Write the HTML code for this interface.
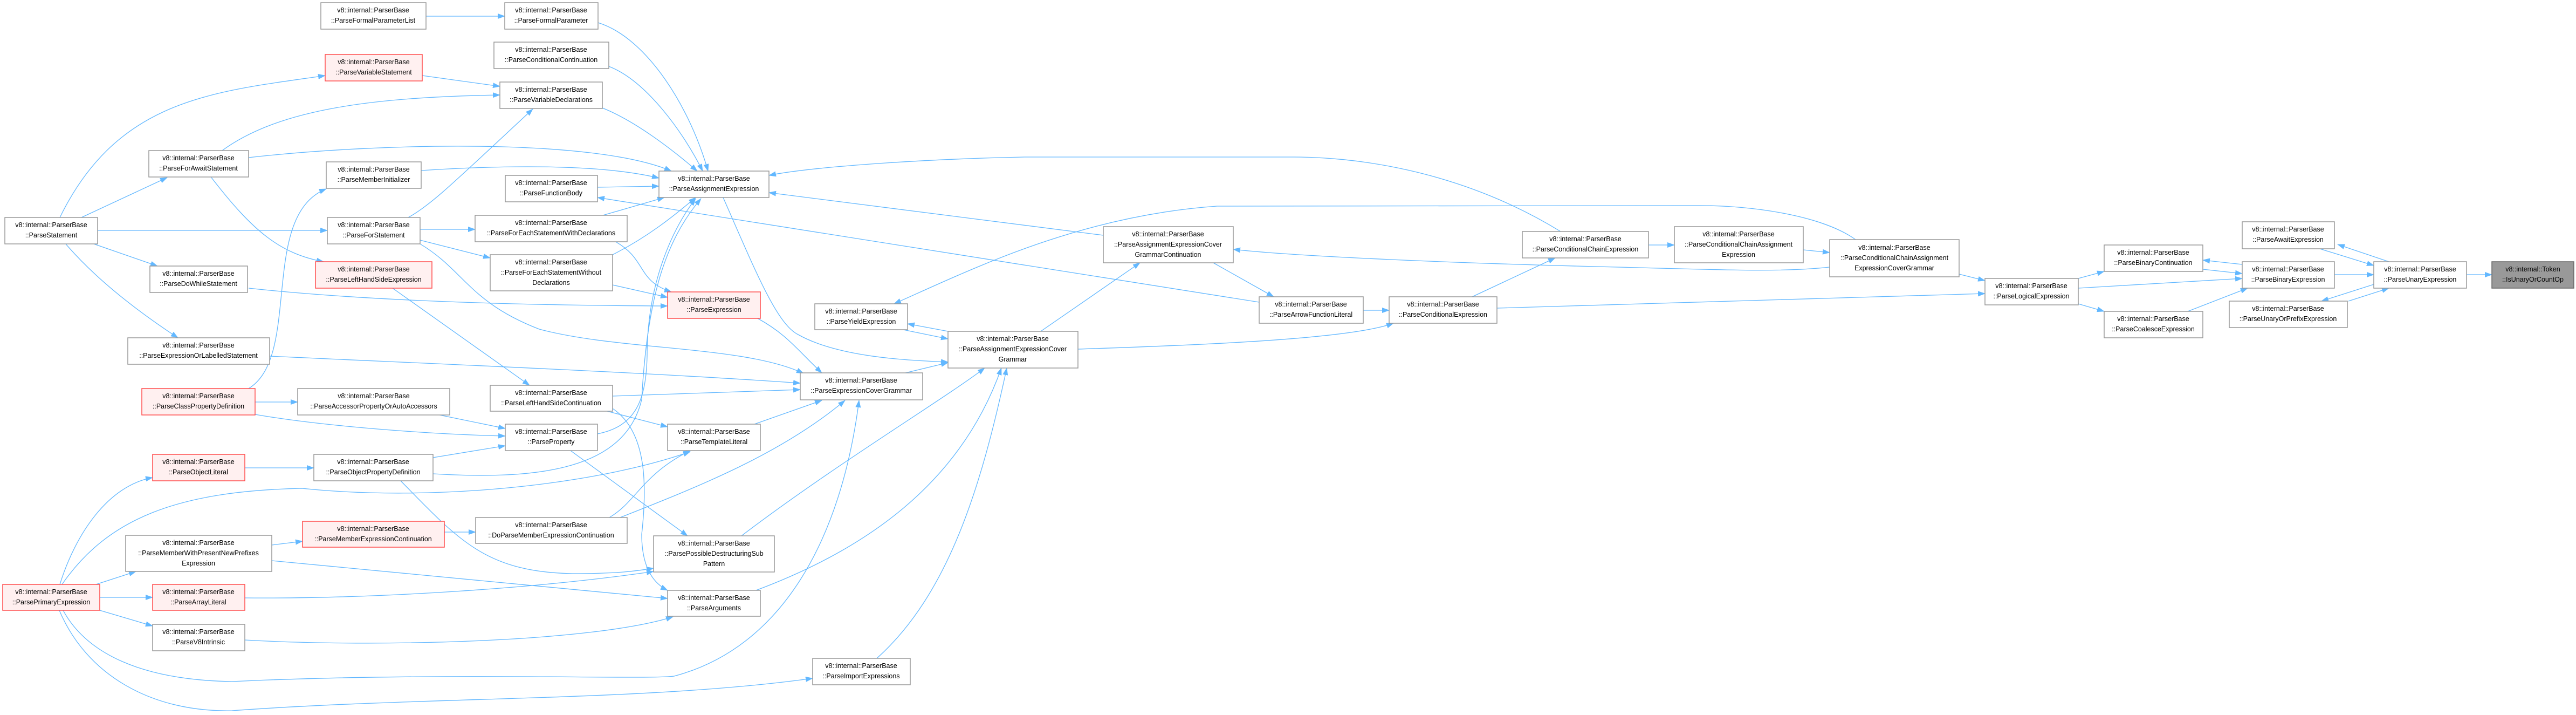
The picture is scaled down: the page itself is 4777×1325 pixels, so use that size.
<!DOCTYPE html>
<html><head><meta charset="utf-8"><style>
html,body{margin:0;padding:0;background:#fff;}
svg{display:block;}
text{font-family:"Liberation Sans",sans-serif;font-size:12.5px;fill:#000;text-anchor:middle;}
.e{fill:none;stroke:#63b8ff;stroke-width:1.3;}
.n{fill:#fff;stroke:#999;stroke-width:1.5;}
.r{fill:#fff0f0;stroke:#ff4d4d;stroke-width:1.5;}
.g{fill:#999;stroke:#666;stroke-width:1.5;}
</style></head><body>
<svg width="4777" height="1325" viewBox="0 0 4777 1325" xmlns="http://www.w3.org/2000/svg">
<defs><marker id="a" markerUnits="userSpaceOnUse" markerWidth="14" markerHeight="10" refX="13" refY="5" orient="auto"><path d="M0,0 L14,5 L0,10 z" fill="#63b8ff"/></marker></defs>
<g class="e" marker-end="url(#a)">
<path d="M790,30 L936,30"/>
<path d="M1109,42 C1200,70 1280,200 1313,317"/>
<path d="M1129,123 C1200,150 1270,250 1303,317"/>
<path d="M1117,200 C1180,225 1250,280 1293,317"/>
<path d="M783,140 L927,160"/>
<path d="M412,279 C520,200 700,180 927,176"/>
<path d="M461,292 C700,265 1100,255 1245,317"/>
<path d="M111,403 C220,180 400,170 603,140"/>
<path d="M151,403 L310,329"/>
<path d="M181,427 L607,427"/>
<path d="M171,451 L292,493"/>
<path d="M121,451 C180,520 260,580 330,626"/>
<path d="M392,329 C470,430 520,470 600,485"/>
<path d="M781,316 C950,305 1120,305 1222,330"/>
<path d="M757,403 C800,380 850,330 988,202"/>
<path d="M779,425 L881,425"/>
<path d="M779,445 L909,478"/>
<path d="M779,452 C860,500 870,560 1000,610 C1150,650 1380,640 1490,692"/>
<path d="M1108,347 L1222,345"/>
<path d="M1118,399 L1232,366"/>
<path d="M1140,447 C1200,480 1180,520 1245,541"/>
<path d="M1136,472 C1200,440 1250,400 1290,366"/>
<path d="M1136,528 L1238,551"/>
<path d="M461,534 C700,560 1000,566 1238,567"/>
<path d="M2894,429 C2700,310 2500,291 2400,291 L1900,291 C1700,295 1500,310 1426,325"/>
<path d="M2046,436 L1426,357"/>
<path d="M2335,560 L1108,366"/>
<path d="M3441,444 C3380,400 3250,380 3145,381 L2257,382 C2000,400 1800,500 1658,563"/>
<path d="M1758,614 L1683,600"/>
<path d="M1675,611 L1758,628"/>
<path d="M1930,614 L2114,487"/>
<path d="M1999,647 C2200,640 2500,630 2584,599"/>
<path d="M2250,487 L2362,550"/>
<path d="M2528,575 L2576,575"/>
<path d="M2730,550 L2884,478"/>
<path d="M3057,454 L3105,454"/>
<path d="M3344,463 L3393,468"/>
<path d="M3393,495 C3300,505 3200,500 3000,495 C2700,488 2400,475 2287,462"/>
<path d="M2776,571 C3100,560 3400,552 3681,544"/>
<path d="M3633,508 L3681,520"/>
<path d="M3854,516 L3902,503"/>
<path d="M3854,534 L4158,516"/>
<path d="M3854,563 L3902,577"/>
<path d="M4057,577 L4168,534"/>
<path d="M4158,490 L4085,482"/>
<path d="M4085,499 L4158,507"/>
<path d="M4329,509 L4402,509"/>
<path d="M4302,461 L4402,492"/>
<path d="M4430,485 L4335,453"/>
<path d="M4402,527 L4305,558"/>
<path d="M4355,558 L4430,534"/>
<path d="M4574,509 L4621,509"/>
<path d="M461,720 C560,660 480,400 605,350"/>
<path d="M728,534 L982,714"/>
<path d="M500,660 C800,674 1200,690 1484,710"/>
<path d="M473,745 L552,745"/>
<path d="M473,768 C600,790 800,805 937,808"/>
<path d="M815,769 L937,794"/>
<path d="M803,848 L937,826"/>
<path d="M454,867 L582,867"/>
<path d="M1108,804 C1180,790 1198,740 1200,660 C1200,520 1250,420 1290,368"/>
<path d="M803,878 C1000,890 1160,870 1190,740 C1200,560 1230,450 1300,368"/>
<path d="M111,1083 C140,990 200,900 283,885"/>
<path d="M115,1083 C200,960 330,910 560,905 C800,930 1100,900 1280,837"/>
<path d="M178,1083 L252,1059"/>
<path d="M185,1107 L283,1107"/>
<path d="M185,1131 L283,1160"/>
<path d="M117,1131 C160,1210 260,1260 430,1263 C800,1245 1200,1260 1250,1253 C1450,1200 1560,1000 1593,742"/>
<path d="M110,1131 C160,1250 280,1320 430,1317 C800,1290 1200,1300 1507,1257"/>
<path d="M504,1010 L561,1003"/>
<path d="M504,1039 L1238,1109"/>
<path d="M454,1108 C700,1110 1000,1090 1212,1059"/>
<path d="M454,1186 C700,1200 1100,1190 1248,1143"/>
<path d="M824,986 L882,986"/>
<path d="M1130,959 C1180,930 1190,880 1280,835"/>
<path d="M1150,959 C1300,900 1450,840 1567,742"/>
<path d="M1136,734 L1484,722"/>
<path d="M1126,762 L1238,791"/>
<path d="M1136,757 C1200,800 1200,900 1190,990 C1190,1050 1210,1080 1238,1094"/>
<path d="M1058,835 L1275,993"/>
<path d="M1396,787 L1524,742"/>
<path d="M1375,993 C1550,860 1750,740 1826,682"/>
<path d="M1402,1094 C1600,1020 1780,900 1857,682"/>
<path d="M1626,1220 C1760,1100 1820,900 1867,682"/>
<path d="M1405,590 C1460,620 1480,650 1524,691"/>
<path d="M1675,692 L1758,672"/>
<path d="M1341,366 C1400,500 1440,600 1480,620 C1560,665 1700,668 1758,671"/>
<path d="M743,891 C850,1000 900,1060 1062,1063 C1150,1063 1180,1058 1212,1053"/>
</g>
<g>
<rect class="n" x="595" y="5" width="195" height="49"/><text x="692" y="23">v8::internal::ParserBase</text><text x="692" y="42">::ParseFormalParameterList</text>
<rect class="n" x="936" y="5" width="173" height="49"/><text x="1022" y="23">v8::internal::ParserBase</text><text x="1022" y="42">::ParseFormalParameter</text>
<rect class="n" x="916" y="78" width="213" height="49"/><text x="1022" y="96">v8::internal::ParserBase</text><text x="1022" y="115">::ParseConditionalContinuation</text>
<rect class="r" x="603" y="101" width="180" height="49"/><text x="693" y="119">v8::internal::ParserBase</text><text x="693" y="138">::ParseVariableStatement</text>
<rect class="n" x="927" y="152" width="190" height="49"/><text x="1022" y="170">v8::internal::ParserBase</text><text x="1022" y="189">::ParseVariableDeclarations</text>
<rect class="n" x="276" y="279" width="185" height="49"/><text x="368" y="297">v8::internal::ParserBase</text><text x="368" y="316">::ParseForAwaitStatement</text>
<rect class="n" x="605" y="300" width="176" height="49"/><text x="693" y="318">v8::internal::ParserBase</text><text x="693" y="337">::ParseMemberInitializer</text>
<rect class="n" x="1222" y="317" width="204" height="49"/><text x="1324" y="335">v8::internal::ParserBase</text><text x="1324" y="354">::ParseAssignmentExpression</text>
<rect class="n" x="937" y="325" width="171" height="49"/><text x="1022" y="343">v8::internal::ParserBase</text><text x="1022" y="362">::ParseFunctionBody</text>
<rect class="n" x="881" y="399" width="282" height="49"/><text x="1022" y="417">v8::internal::ParserBase</text><text x="1022" y="436">::ParseForEachStatementWithDeclarations</text>
<rect class="n" x="9" y="403" width="172" height="49"/><text x="95" y="421">v8::internal::ParserBase</text><text x="95" y="440">::ParseStatement</text>
<rect class="n" x="607" y="403" width="172" height="49"/><text x="693" y="421">v8::internal::ParserBase</text><text x="693" y="440">::ParseForStatement</text>
<rect class="n" x="2046" y="420" width="241" height="67"/><text x="2166" y="438">v8::internal::ParserBase</text><text x="2166" y="457">::ParseAssignmentExpressionCover</text><text x="2166" y="476">GrammarContinuation</text>
<rect class="n" x="2823" y="429" width="234" height="49"/><text x="2940" y="447">v8::internal::ParserBase</text><text x="2940" y="466">::ParseConditionalChainExpression</text>
<rect class="n" x="3105" y="420" width="239" height="67"/><text x="3224" y="438">v8::internal::ParserBase</text><text x="3224" y="457">::ParseConditionalChainAssignment</text><text x="3224" y="476">Expression</text>
<rect class="n" x="3393" y="444" width="240" height="69"/><text x="3513" y="463">v8::internal::ParserBase</text><text x="3513" y="482">::ParseConditionalChainAssignment</text><text x="3513" y="501">ExpressionCoverGrammar</text>
<rect class="n" x="4158" y="411" width="171" height="50"/><text x="4243" y="429">v8::internal::ParserBase</text><text x="4243" y="448">::ParseAwaitExpression</text>
<rect class="n" x="3902" y="454" width="183" height="49"/><text x="3993" y="472">v8::internal::ParserBase</text><text x="3993" y="491">::ParseBinaryContinuation</text>
<rect class="n" x="909" y="472" width="227" height="67"/><text x="1022" y="490">v8::internal::ParserBase</text><text x="1022" y="509">::ParseForEachStatementWithout</text><text x="1022" y="528">Declarations</text>
<rect class="r" x="585" y="485" width="216" height="49"/><text x="693" y="503">v8::internal::ParserBase</text><text x="693" y="522">::ParseLeftHandSideExpression</text>
<rect class="n" x="4158" y="485" width="171" height="49"/><text x="4243" y="503">v8::internal::ParserBase</text><text x="4243" y="522">::ParseBinaryExpression</text>
<rect class="n" x="4402" y="485" width="172" height="49"/><text x="4488" y="503">v8::internal::ParserBase</text><text x="4488" y="522">::ParseUnaryExpression</text>
<rect class="g" x="4621" y="485" width="152" height="49"/><text x="4697" y="503">v8::internal::Token</text><text x="4697" y="522">::IsUnaryOrCountOp</text>
<rect class="n" x="278" y="493" width="181" height="49"/><text x="368" y="511">v8::internal::ParserBase</text><text x="368" y="530">::ParseDoWhileStatement</text>
<rect class="n" x="3681" y="516" width="173" height="49"/><text x="3767" y="534">v8::internal::ParserBase</text><text x="3767" y="553">::ParseLogicalExpression</text>
<rect class="r" x="1238" y="541" width="172" height="49"/><text x="1324" y="559">v8::internal::ParserBase</text><text x="1324" y="578">::ParseExpression</text>
<rect class="n" x="2335" y="550" width="193" height="49"/><text x="2431" y="568">v8::internal::ParserBase</text><text x="2431" y="587">::ParseArrowFunctionLiteral</text>
<rect class="n" x="2576" y="550" width="200" height="49"/><text x="2676" y="568">v8::internal::ParserBase</text><text x="2676" y="587">::ParseConditionalExpression</text>
<rect class="n" x="4134" y="558" width="219" height="49"/><text x="4243" y="576">v8::internal::ParserBase</text><text x="4243" y="595">::ParseUnaryOrPrefixExpression</text>
<rect class="n" x="1511" y="563" width="172" height="48"/><text x="1597" y="581">v8::internal::ParserBase</text><text x="1597" y="600">::ParseYieldExpression</text>
<rect class="n" x="3902" y="577" width="183" height="49"/><text x="3993" y="595">v8::internal::ParserBase</text><text x="3993" y="614">::ParseCoalesceExpression</text>
<rect class="n" x="1758" y="614" width="241" height="68"/><text x="1878" y="632">v8::internal::ParserBase</text><text x="1878" y="651">::ParseAssignmentExpressionCover</text><text x="1878" y="670">Grammar</text>
<rect class="n" x="237" y="626" width="263" height="49"/><text x="368" y="644">v8::internal::ParserBase</text><text x="368" y="663">::ParseExpressionOrLabelledStatement</text>
<rect class="n" x="1484" y="691" width="227" height="50"/><text x="1597" y="709">v8::internal::ParserBase</text><text x="1597" y="728">::ParseExpressionCoverGrammar</text>
<rect class="n" x="909" y="714" width="227" height="48"/><text x="1022" y="732">v8::internal::ParserBase</text><text x="1022" y="751">::ParseLeftHandSideContinuation</text>
<rect class="r" x="263" y="720" width="210" height="49"/><text x="368" y="738">v8::internal::ParserBase</text><text x="368" y="757">::ParseClassPropertyDefinition</text>
<rect class="n" x="552" y="720" width="282" height="49"/><text x="693" y="738">v8::internal::ParserBase</text><text x="693" y="757">::ParseAccessorPropertyOrAutoAccessors</text>
<rect class="n" x="937" y="786" width="171" height="49"/><text x="1022" y="804">v8::internal::ParserBase</text><text x="1022" y="823">::ParseProperty</text>
<rect class="n" x="1238" y="786" width="172" height="49"/><text x="1324" y="804">v8::internal::ParserBase</text><text x="1324" y="823">::ParseTemplateLiteral</text>
<rect class="r" x="283" y="842" width="171" height="49"/><text x="368" y="860">v8::internal::ParserBase</text><text x="368" y="879">::ParseObjectLiteral</text>
<rect class="n" x="582" y="842" width="221" height="49"/><text x="692" y="860">v8::internal::ParserBase</text><text x="692" y="879">::ParseObjectPropertyDefinition</text>
<rect class="n" x="882" y="959" width="281" height="48"/><text x="1022" y="977">v8::internal::ParserBase</text><text x="1022" y="996">::DoParseMemberExpressionContinuation</text>
<rect class="r" x="561" y="966" width="263" height="48"/><text x="692" y="984">v8::internal::ParserBase</text><text x="692" y="1003">::ParseMemberExpressionContinuation</text>
<rect class="n" x="233" y="992" width="271" height="67"/><text x="368" y="1010">v8::internal::ParserBase</text><text x="368" y="1029">::ParseMemberWithPresentNewPrefixes</text><text x="368" y="1048">Expression</text>
<rect class="n" x="1212" y="993" width="224" height="67"/><text x="1324" y="1011">v8::internal::ParserBase</text><text x="1324" y="1030">::ParsePossibleDestructuringSub</text><text x="1324" y="1049">Pattern</text>
<rect class="r" x="5" y="1083" width="180" height="48"/><text x="95" y="1101">v8::internal::ParserBase</text><text x="95" y="1120">::ParsePrimaryExpression</text>
<rect class="r" x="283" y="1083" width="171" height="48"/><text x="368" y="1101">v8::internal::ParserBase</text><text x="368" y="1120">::ParseArrayLiteral</text>
<rect class="n" x="1238" y="1094" width="172" height="48"/><text x="1324" y="1112">v8::internal::ParserBase</text><text x="1324" y="1131">::ParseArguments</text>
<rect class="n" x="283" y="1157" width="171" height="49"/><text x="368" y="1175">v8::internal::ParserBase</text><text x="368" y="1194">::ParseV8Intrinsic</text>
<rect class="n" x="1507" y="1220" width="181" height="49"/><text x="1597" y="1238">v8::internal::ParserBase</text><text x="1597" y="1257">::ParseImportExpressions</text>
</g>
</svg>
</body></html>
